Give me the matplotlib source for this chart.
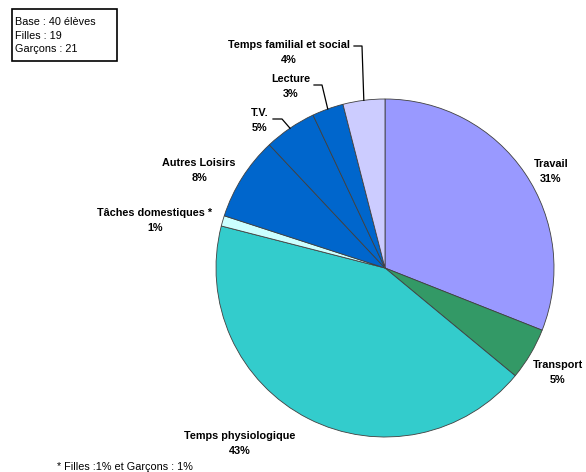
import numpy as np
import matplotlib.pyplot as plt

# Data
categories = ['Travail', 'Transport', 'Temps physiologique', 'Tâches domestiques *',
              'Autres Loisirs', 'T.V.', 'Lecture', 'Temps familial et social']
shares = [31, 5, 43, 1, 8, 5, 3, 4]
colors = ['#9999FF', '#339966', '#33CCCC', '#CCFFFF',
          '#0066CC', '#0066CC', '#0066CC', '#CCCCFF']
info_lines = ['Base : 40 élèves', 'Filles : 19', 'Garçons : 21']
footnote = '* Filles :1% et Garçons : 1%'

W, H = 586, 472
plt.rcParams['font.family'] = ['Liberation Sans', 'DejaVu Sans']
FS = 7.8

fig = plt.figure(figsize=(W / 100, H / 100), dpi=100)
ax = fig.add_axes([0, 0, 1, 1])

cx, cy, r = 385, H - 268, 169
wedges, _ = ax.pie(shares, colors=colors, startangle=90, counterclock=False,
                   center=(cx, cy), radius=r, frame=True,
                   wedgeprops=dict(edgecolor='#404040', linewidth=0.6))
ax.set_xlim(0, W)
ax.set_ylim(0, H)
ax.set_aspect('equal')
ax.axis('off')

# label positions (pixels from top-left)
label_pos = {
    'Travail': (551, 164),
    'Transport': (558, 365),
    'Temps physiologique': (240, 436),
    'Tâches domestiques *': (155, 213),
    'Autres Loisirs': (199, 163),
    'T.V.': (260, 113),
    'Lecture': (291, 79),
    'Temps familial et social': (289, 45),
}
# leader lines: start of horizontal part, elbow x
leaders = {
    'T.V.': ((273, 119), 282),
    'Lecture': ((314, 85), 322),
    'Temps familial et social': ((354, 46), 362),
}

for w, name, val in zip(wedges, categories, shares):
    px, py = label_pos[name]
    ax.text(px, H - py, name, ha='center', va='center', fontsize=FS,
            fontweight='bold')
    ax.text(px, H - py - 15, f'{val}%', ha='center', va='center',
            fontsize=FS, fontweight='bold')
    if name in leaders:
        (sx, sy), ex = leaders[name]
        ang = np.deg2rad((w.theta1 + w.theta2) / 2)
        wx, wy = cx + r * np.cos(ang), cy + r * np.sin(ang)
        ax.plot([sx, ex, wx], [H - sy, H - sy, wy], color='black', lw=0.9)

# info box
for i, line in enumerate(info_lines):
    ax.text(15, H - (22 + i * 13.6), line, ha='left', va='center', fontsize=FS)
ax.add_patch(plt.Rectangle((12, H - 61), 105, 52, fill=False,
                           edgecolor='black', lw=1.2))

ax.text(57, H - 467, footnote, ha='left', va='center', fontsize=FS)

fig.savefig('out.png', dpi=100)
